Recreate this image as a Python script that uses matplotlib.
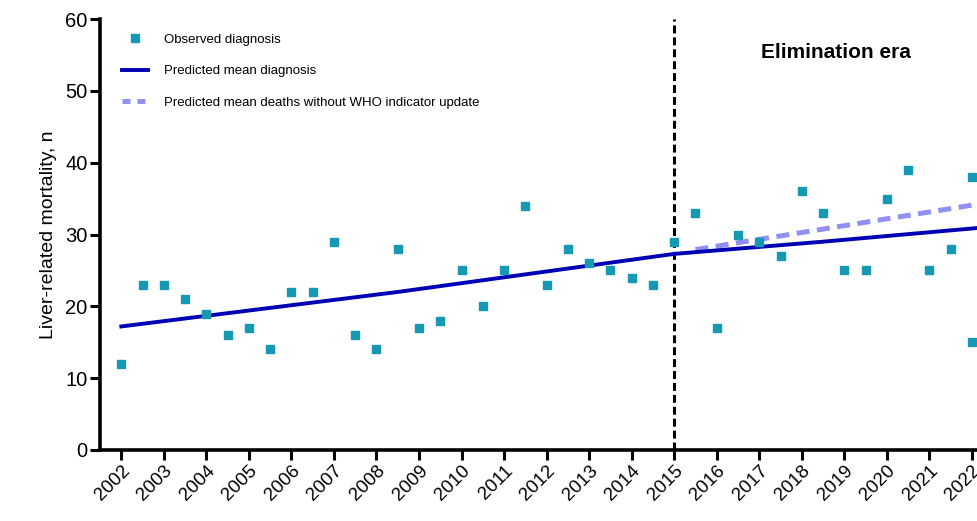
import numpy as np
import matplotlib.pyplot as plt
from matplotlib.lines import Line2D

plt.rcParams['font.family'] = ['Liberation Sans', 'DejaVu Sans']

# observed deaths, half-year steps 2002-2022 (two readings at 2022)
obs_x = [2002, 2002.5, 2003, 2003.5, 2004, 2004.5, 2005, 2005.5, 2006, 2006.5,
         2007, 2007.5, 2008, 2008.5, 2009, 2009.5, 2010, 2010.5, 2011, 2011.5,
         2012, 2012.5, 2013, 2013.5, 2014, 2014.5, 2015, 2015.5, 2016, 2016.5,
         2017, 2017.5, 2018, 2018.5, 2019, 2019.5, 2020, 2020.5, 2021, 2021.5,
         2022, 2022]
obs_y = [12, 23, 23, 21, 19, 16, 17, 14, 22, 22,
         29, 16, 14, 28, 17, 18, 25, 20, 25, 34,
         23, 28, 26, 25, 24, 23, 29, 33, 17, 30,
         29, 27, 36, 33, 25, 25, 35, 39, 25, 28,
         38, 15]

# predicted mean
pred_x = [2002, 2008.5, 2015, 2018.5, 2022.12]
pred_y = [17.2, 22.0, 27.3, 29.0, 30.9]

# predicted mean without WHO indicator update
alt_x = [2015.5, 2022.12]
alt_y = [27.9, 34.2]

years = list(range(2002, 2023))

fig = plt.figure(figsize=(9.77, 5.21), dpi=100)
ax = fig.add_axes([0.1024, 0.1363, 0.8976, 0.8272])

ax.plot(alt_x, alt_y, color='#9090f5', lw=3.6, ls=(0, (2.6, 1.5)), zorder=2)
ax.plot(pred_x, pred_y, color='#0000b4', lw=2.8, zorder=3)
ax.plot(obs_x, obs_y, ls='none', marker='s', ms=5.3, color='#1598b2', zorder=4)

ax.axvline(2015, color='black', lw=2.2, ls=(0, (2.6, 1.3)), zorder=1)
ax.text(2018.8, 55.3, 'Elimination era', fontsize=15, fontweight='bold',
        ha='center', va='center')

ax.set_xlim(2001.5, 2022.12)
ax.set_ylim(0, 60)
ax.set_xticks(years)
ax.set_xticklabels([str(y) for y in years], rotation=45, ha='right',
                   rotation_mode='anchor', fontsize=13.5)
ax.set_yticks(range(0, 61, 10))
ax.tick_params(axis='y', labelsize=14.5, pad=2)
ax.tick_params(axis='x', pad=2)
ax.tick_params(length=7, width=2.2, direction='out')
ax.set_ylabel('Liver-related mortality, n', fontsize=14, labelpad=6)

for s in ['top', 'right']:
    ax.spines[s].set_visible(False)
for s in ['left', 'bottom']:
    ax.spines[s].set_linewidth(2.6)

handles = [
    Line2D([], [], ls='none', marker='s', ms=5.3, color='#1598b2'),
    Line2D([], [], color='#0000b4', lw=2.8),
    Line2D([], [], color='#9090f5', lw=3.6, ls=(0, (1.6, 1.4))),
]
labels = ['Observed diagnosis', 'Predicted mean diagnosis',
          'Predicted mean deaths without WHO indicator update']
ax.legend(handles, labels, loc='upper left', bbox_to_anchor=(0.008, 1.0),
          frameon=False, fontsize=9.5, handlelength=2.0, labelspacing=1.45,
          borderaxespad=0.7, handletextpad=1.2)

fig.savefig('out.png', dpi=100)
